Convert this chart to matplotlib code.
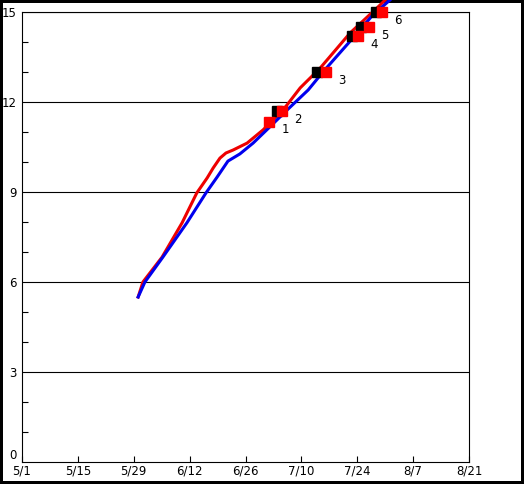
import matplotlib
matplotlib.use("Agg")
import matplotlib.pyplot as plt
from matplotlib.ticker import MultipleLocator

# x values are days counted from 5/1
tick_labels = ["5/1", "5/15", "5/29", "6/12", "6/26", "7/10", "7/24", "8/7", "8/21"]

blue_days = [29.1, 30.8, 35.3, 41.3, 46.1, 48.9, 51.6, 54.6, 57.9, 62.1, 66.4, 71.7, 75.4, 82.9, 87.7, 92.2]
blue_vals = [5.5, 6.0, 6.83, 7.97, 8.97, 9.5, 10.03, 10.27, 10.63, 11.17, 11.73, 12.4, 13.0, 14.13, 14.87, 15.4]

red_days = [29.1, 30.3, 35.1, 40.1, 43.8, 46.4, 47.9, 49.6, 51.1, 52.9, 56.4, 60.4, 65.4, 69.7, 74.7, 82.2, 89.7, 91.0]
red_vals = [5.5, 6.0, 6.83, 7.97, 8.97, 9.47, 9.8, 10.13, 10.3, 10.4, 10.63, 11.07, 11.73, 12.47, 13.13, 14.3, 15.23, 15.4]

black_pt_days = [63.9, 74.0, 82.7, 84.9, 88.7]
black_pt_vals = [11.7, 13.0, 14.2, 14.5, 15.0]

red_pt_days = [62.0, 65.1, 76.2, 84.2, 86.9, 90.2]
red_pt_vals = [11.35, 11.7, 13.0, 14.2, 14.5, 15.0]
red_pt_labels = ["1", "2", "3", "4", "5", "6"]

fig = plt.figure(figsize=(5.24, 4.84), dpi=100)
fig.patch.set_edgecolor("black")
fig.patch.set_linewidth(4.3)
ax = fig.add_axes([22 / 524, 22 / 484, 447 / 524, 450 / 484])

ax.set_xlim(0, 112)
ax.set_ylim(0, 15)
ax.set_xticks(range(0, 113, 14))
ax.set_xticklabels(tick_labels)
ax.set_yticks([0, 3, 6, 9, 12, 15])
ax.yaxis.set_minor_locator(MultipleLocator(1))
ax.tick_params(axis="both", which="both", direction="in", labelsize=8.5,
               color="black", width=0.8)
ax.tick_params(axis="x", which="major", length=4, pad=2)
ax.tick_params(axis="y", which="major", length=0, pad=4)
ax.tick_params(axis="y", which="minor", length=4)
for s in ax.spines.values():
    s.set_linewidth(0.8)
# "0" sits a little above the corner, clear of "5/1"
ax.get_yticklabels()[0].set_verticalalignment("bottom")

for v in [3, 6, 9, 12, 15]:
    ax.axhline(v, color="black", linewidth=0.8, zorder=1)

ax.plot(red_days, red_vals, color="#ee0000", linewidth=2.2, clip_on=False, zorder=3)
ax.plot(blue_days, blue_vals, color="#0000ee", linewidth=2.2, clip_on=False, zorder=3)

ax.plot(black_pt_days, black_pt_vals, "s", color="black", markersize=7, zorder=4,
        clip_on=False)
ax.plot(red_pt_days, red_pt_vals, "s", color="#ff0000", markersize=7, zorder=5,
        clip_on=False)
for d, v, lab in zip(red_pt_days, red_pt_vals, red_pt_labels):
    ax.annotate(lab, (d, v), xytext=(11.5, -6), textcoords="offset points",
                ha="center", va="center", fontsize=8.5, zorder=6)

fig.savefig("out.png", dpi=100)
